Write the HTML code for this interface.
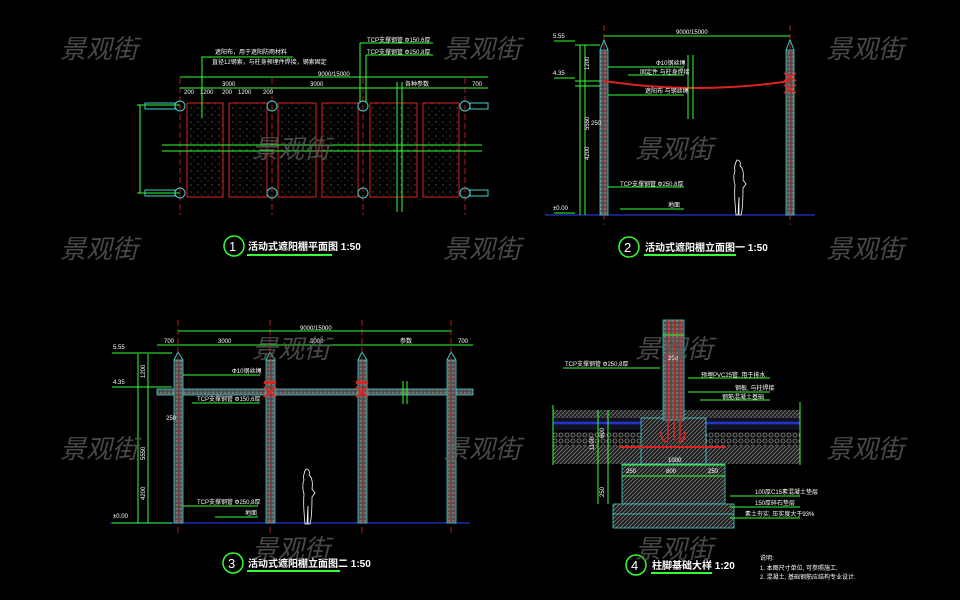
<!DOCTYPE html>
<html><head><meta charset="utf-8"><style>
html,body{margin:0;padding:0;background:#000;}
svg{display:block}
.wm{font-family:"Liberation Sans","Noto Sans CJK SC",sans-serif;font-size:26px;font-style:italic;fill:#5a5a5a;fill-opacity:0.8}
.t{font-family:"Liberation Sans","Noto Sans CJK SC",sans-serif;fill:#fff}
.s{font-family:"Liberation Sans","Noto Sans CJK SC",sans-serif;font-size:6px;fill:#fff}
</style></head><body>
<svg width="960" height="600" viewBox="0 0 960 600" xmlns="http://www.w3.org/2000/svg">
<defs>
<pattern id="dots" width="7" height="7" patternUnits="userSpaceOnUse"><rect width="7" height="7" fill="#000"/><circle cx="2" cy="3" r="0.5" fill="#bbb"/><circle cx="5" cy="6" r="0.4" fill="#999"/></pattern>
<pattern id="post" width="4" height="4" patternUnits="userSpaceOnUse"><rect width="4" height="4" fill="#555"/><circle cx="1" cy="1" r="0.7" fill="#999"/><circle cx="3" cy="3" r="0.6" fill="#333"/></pattern>
<pattern id="hatch" width="4" height="4" patternUnits="userSpaceOnUse"><rect width="4" height="4" fill="#222"/><path d="M0 4L4 0" stroke="#999" stroke-width="0.6"/></pattern>
<pattern id="grav" width="6" height="6" patternUnits="userSpaceOnUse"><rect width="6" height="6" fill="#111"/><circle cx="3" cy="3" r="2" fill="none" stroke="#aaa" stroke-width="0.6"/></pattern>
</defs>

<!-- ===== Q1 plan ===== -->
<g>
<g fill="url(#dots)" stroke="#d22" stroke-width="1">
<rect x="187" y="103" width="36" height="94"/><rect x="229" y="103" width="38" height="94"/>
<rect x="278" y="103" width="38" height="94"/><rect x="322" y="103" width="36" height="94"/>
<rect x="370" y="103" width="47" height="94"/><rect x="423" y="103" width="36" height="94"/>
</g>
<g stroke="#d22" stroke-width="0.8" stroke-dasharray="6,3">
<line x1="180" y1="78" x2="180" y2="215"/><line x1="272" y1="78" x2="272" y2="215"/><line x1="363" y1="78" x2="363" y2="215"/><line x1="465" y1="78" x2="465" y2="215"/>
</g>
<g stroke="#3f3" stroke-width="1" fill="none">
<line x1="162" y1="145" x2="482" y2="145"/><line x1="162" y1="151" x2="482" y2="151"/>
<line x1="180" y1="77" x2="488" y2="77"/><line x1="180" y1="88" x2="488" y2="88"/>
<line x1="397" y1="82" x2="397" y2="212"/><line x1="402" y1="82" x2="402" y2="212"/>
<line x1="140" y1="105" x2="140" y2="193"/><line x1="137" y1="105" x2="180" y2="105"/><line x1="137" y1="193" x2="180" y2="193"/>
<polyline points="202,118 202,57 293,57"/><line x1="360" y1="43" x2="433" y2="43"/><line x1="360" y1="43" x2="360" y2="103"/>
<line x1="366" y1="55" x2="433" y2="55"/><line x1="366" y1="55" x2="366" y2="103"/>
</g>
<g stroke="#4cc" stroke-width="1" fill="none">
<circle cx="180" cy="106" r="5"/><circle cx="272" cy="106" r="5"/><circle cx="363" cy="106" r="5"/><circle cx="465" cy="106" r="5"/>
<circle cx="180" cy="193" r="5"/><circle cx="272" cy="193" r="5"/><circle cx="363" cy="193" r="5"/><circle cx="465" cy="193" r="5"/>
<rect x="145" y="103" width="30" height="6"/><rect x="145" y="190" width="30" height="6"/>
<rect x="470" y="103" width="18" height="6"/><rect x="470" y="190" width="18" height="6"/>
</g>
<g class="s">
<text x="318" y="76">9000/15000</text><text x="222" y="86">3000</text><text x="310" y="86">3000</text><text x="405" y="86">各种参数</text><text x="472" y="86">700</text>
<text x="184" y="94">200</text><text x="200" y="94">1200</text><text x="222" y="94">200</text><text x="238" y="94">1200</text><text x="263" y="94">200</text>
<text x="215" y="54">遮阳布，用于遮阳防雨材料</text><text x="212" y="64">直径12钢索，与柱身预埋件焊接，钢索固定</text>
<text x="367" y="42">TCP支撑钢管 Φ150,6厚</text><text x="367" y="54">TCP支撑钢管 Φ250,8厚</text>
</g>
<circle cx="234" cy="246" r="10" fill="none" stroke="#3f3" stroke-width="1.5"/>
<text class="t" x="229" y="251" font-size="13">1</text>
<text class="t" x="248" y="250" font-size="10" font-weight="bold">活动式遮阳棚平面图 1:50</text>
<line x1="247" y1="255" x2="332" y2="255" stroke="#3f3" stroke-width="2"/>
</g>

<!-- ===== Q2 elevation ===== -->
<g>
<line x1="545" y1="215" x2="815" y2="215" stroke="#23c" stroke-width="1.2"/>
<rect x="600" y="50" width="8" height="165" fill="url(#post)" stroke="#4cc" stroke-width="0.8"/>
<rect x="786" y="50" width="8" height="165" fill="url(#post)" stroke="#4cc" stroke-width="0.8"/>
<path d="M600 50L604 40L608 50M786 50L790 40L794 50" stroke="#4cc" fill="none"/>
<g stroke="#d22" stroke-width="0.8" stroke-dasharray="6,3"><line x1="604" y1="25" x2="604" y2="225"/><line x1="790" y1="25" x2="790" y2="225"/></g>
<path d="M604 81 Q697 95 790 81" stroke="#d22" stroke-width="2" fill="none"/>
<path d="M784 73l12 8M784 81l12-8M784 85l12 8M784 93l12-8" stroke="#e22" stroke-width="1.5"/>
<g stroke="#3f3" stroke-width="1" fill="none">
<line x1="604" y1="36" x2="790" y2="36"/>
<line x1="580" y1="45" x2="580" y2="215"/><line x1="585" y1="45" x2="585" y2="215"/>
<line x1="575" y1="45" x2="600" y2="45"/><line x1="575" y1="81" x2="600" y2="81"/><line x1="575" y1="86" x2="600" y2="86"/>
<line x1="554" y1="41" x2="575" y2="41"/><line x1="554" y1="78" x2="575" y2="78"/><line x1="554" y1="213" x2="575" y2="213"/>
<line x1="608" y1="67" x2="684" y2="67"/><line x1="628" y1="75" x2="684" y2="75"/><line x1="608" y1="95" x2="684" y2="95"/>
<line x1="688" y1="55" x2="688" y2="119"/><line x1="693" y1="55" x2="693" y2="119"/>
<line x1="608" y1="187" x2="684" y2="187"/><line x1="620" y1="209" x2="684" y2="209"/>
</g>
<g class="s">
<text x="676" y="34">9000/15000</text><text x="553" y="38">5.55</text><text x="553" y="75">4.35</text><text x="553" y="210">±0.00</text>
<text x="589" y="130" transform="rotate(-90 589 130)">5550</text><text x="589" y="160" transform="rotate(-90 589 160)">4200</text><text x="589" y="70" transform="rotate(-90 589 70)">1200</text>
<text x="591" y="125">250</text>
<text x="656" y="65">Φ10钢丝绳</text><text x="640" y="74">固定件 与柱身焊接</text><text x="645" y="93">遮阳布 与钢丝绳</text>
<text x="620" y="186">TCP支撑钢管 Φ250,8厚</text><text x="668" y="207">地面</text>
</g>
<path d="M737 160c3 0 4 3 3 6c3 2 4 8 3 14l3 4l-3 4c0 8 0 20-2 27h-2l0-18l-1 18h-2c-1-10-2-20-1-30c-2-6-1-12 0-14c-1-3 0-8 2-11z" stroke="#fff" fill="none" stroke-width="0.8"/>
<circle cx="629" cy="247" r="10" fill="none" stroke="#3f3" stroke-width="1.5"/>
<text class="t" x="624" y="252" font-size="13">2</text>
<text class="t" x="645" y="251" font-size="10" font-weight="bold">活动式遮阳棚立面图一 1:50</text>
<line x1="644" y1="255" x2="736" y2="255" stroke="#3f3" stroke-width="2"/>
</g>

<!-- ===== Q3 elevation ===== -->
<g>
<line x1="110" y1="523" x2="470" y2="523" stroke="#23c" stroke-width="1.2"/>
<rect x="157" y="389" width="316" height="6" fill="url(#post)" stroke="#4cc" stroke-width="0.8"/>
<g fill="url(#post)" stroke="#4cc" stroke-width="0.8">
<rect x="174" y="360" width="9" height="163"/><rect x="266" y="360" width="9" height="163"/><rect x="358" y="360" width="9" height="163"/><rect x="447" y="360" width="9" height="163"/>
</g>
<path d="M174 360l4-8l5 8M266 360l4-8l5 8M358 360l4-8l5 8M447 360l4-8l5 8" stroke="#4cc" fill="none"/>
<g stroke="#d22" stroke-width="0.8" stroke-dasharray="6,3"><line x1="178" y1="320" x2="178" y2="535"/><line x1="270" y1="320" x2="270" y2="535"/><line x1="362" y1="320" x2="362" y2="535"/><line x1="451" y1="320" x2="451" y2="535"/></g>
<path d="M264 387l12 10M264 397l12-10M356 387l12 10M356 397l12-10" stroke="#e22" stroke-width="2"/>
<rect x="264" y="381" width="12" height="3" fill="#d22"/><rect x="356" y="381" width="12" height="3" fill="#d22"/>
<g stroke="#3f3" stroke-width="1" fill="none">
<line x1="178" y1="331" x2="451" y2="331"/><line x1="157" y1="345" x2="473" y2="345"/>
<line x1="138" y1="354" x2="138" y2="523"/><line x1="148" y1="354" x2="148" y2="523"/>
<line x1="112" y1="353" x2="172" y2="353"/><line x1="112" y1="387" x2="172" y2="387"/><line x1="112" y1="523" x2="172" y2="523"/>
<line x1="183" y1="375" x2="260" y2="375"/><line x1="192" y1="403" x2="260" y2="403"/>
<line x1="403" y1="381" x2="403" y2="404"/><line x1="407" y1="381" x2="407" y2="404"/>
<line x1="183" y1="506" x2="258" y2="506"/><line x1="215" y1="517" x2="258" y2="517"/>
</g>
<g class="s">
<text x="300" y="330">9000/15000</text><text x="164" y="343">700</text><text x="218" y="343">3000</text><text x="310" y="343">3000</text><text x="400" y="343">参数</text><text x="458" y="343">700</text>
<text x="113" y="349">5.55</text><text x="113" y="384">4.35</text><text x="113" y="518">±0.00</text>
<text x="145" y="460" transform="rotate(-90 145 460)">5550</text><text x="145" y="500" transform="rotate(-90 145 500)">4200</text><text x="145" y="378" transform="rotate(-90 145 378)">1200</text>
<text x="166" y="420">250</text>
<text x="232" y="373">Φ10钢丝绳</text><text x="197" y="401">TCP支撑钢管 Φ150,6厚</text>
<text x="197" y="504">TCP支撑钢管 Φ250,8厚</text><text x="245" y="515">地面</text>
</g>
<path d="M306 469c3 0 4 3 3 6c3 2 4 8 3 14l3 4l-3 4c0 8 0 20-2 27h-2l0-18l-1 18h-2c-1-10-2-20-1-30c-2-6-1-12 0-14c-1-3 0-8 2-11z" stroke="#fff" fill="none" stroke-width="0.8"/>
<circle cx="233" cy="563" r="10" fill="none" stroke="#3f3" stroke-width="1.5"/>
<text class="t" x="228" y="568" font-size="13">3</text>
<text class="t" x="248" y="567" font-size="10" font-weight="bold">活动式遮阳棚立面图二 1:50</text>
<line x1="247" y1="571" x2="340" y2="571" stroke="#3f3" stroke-width="2"/>
</g>

<!-- ===== Q4 detail ===== -->
<g>
<rect x="553" y="410" width="247" height="8" fill="url(#hatch)"/>
<rect x="553" y="418" width="247" height="12" fill="#112" />
<line x1="553" y1="423" x2="800" y2="423" stroke="#23c" stroke-width="2.5"/>
<rect x="553" y="432" width="247" height="14" fill="url(#grav)"/>
<rect x="553" y="446" width="247" height="18" fill="url(#hatch)"/>
<rect x="641" y="418" width="65" height="46" fill="url(#hatch)" stroke="#4cc" stroke-width="0.8"/>
<rect x="622" y="464" width="103" height="40" fill="url(#hatch)" stroke="#4cc" stroke-width="0.8"/>
<rect x="613" y="504" width="121" height="24" fill="url(#hatch)" stroke="#4cc" stroke-width="0.8"/>
<line x1="613" y1="514" x2="734" y2="514" stroke="#4cc" stroke-width="0.8"/>
<rect x="663" y="320" width="21" height="100" fill="url(#post)" stroke="#4cc" stroke-width="0.8"/>
<g stroke="#d22" stroke-width="1.5"><line x1="668" y1="320" x2="668" y2="440"/><line x1="674" y1="320" x2="674" y2="440"/><line x1="680" y1="320" x2="680" y2="440"/>
<line x1="619" y1="447" x2="726" y2="447" stroke-width="2"/>
<path d="M661 432q0 10 7 10M685 432q0 10-7 10" fill="none"/></g>
<g stroke="#3f3" stroke-width="1" fill="none">
<line x1="553" y1="405" x2="553" y2="465"/><line x1="800" y1="402" x2="800" y2="465"/>
<line x1="608" y1="410" x2="608" y2="504"/><line x1="598" y1="410" x2="598" y2="504"/>
<line x1="622" y1="465" x2="725" y2="465"/><line x1="622" y1="476" x2="725" y2="476"/>
<line x1="563" y1="368" x2="660" y2="368"/><line x1="688" y1="378" x2="770" y2="378"/>
<line x1="688" y1="392" x2="770" y2="392"/><line x1="700" y1="400" x2="770" y2="400"/>
<line x1="730" y1="496" x2="800" y2="496"/><line x1="730" y1="507" x2="800" y2="507"/><line x1="730" y1="518" x2="800" y2="518"/>
<line x1="663" y1="335" x2="684" y2="335"/>
</g>
<g class="s">
<text x="565" y="366">TCP支撑钢管 Φ250,8厚</text><text x="701" y="377">预埋PVC25管, 用于排水</text><text x="735" y="390">钢板, 与柱焊接</text><text x="722" y="399">钢筋混凝土基础</text>
<text x="668" y="360">250</text><text x="668" y="462">1000</text><text x="626" y="473">250</text><text x="666" y="473">800</text><text x="708" y="473">250</text>
<text x="594" y="450" transform="rotate(-90 594 450)">1100</text><text x="604" y="438" transform="rotate(-90 604 438)">600</text><text x="604" y="497" transform="rotate(-90 604 497)">250</text>
<text x="755" y="494">100厚C15素混凝土垫层</text><text x="755" y="505">150厚碎石垫层</text><text x="745" y="516">素土夯实, 压实度大于93%</text>
<text x="760" y="560">说明:</text><text x="760" y="570">1. 本图尺寸单位, 可参照施工;</text><text x="760" y="579">2. 混凝土, 基础钢筋应结构专业设计.</text>
</g>
<circle cx="636" cy="565" r="10" fill="none" stroke="#3f3" stroke-width="1.5"/>
<text class="t" x="631" y="570" font-size="13">4</text>
<text class="t" x="652" y="569" font-size="10" font-weight="bold">柱脚基础大样 1:20</text>
<line x1="651" y1="573" x2="712" y2="573" stroke="#3f3" stroke-width="2"/>
</g>

<!-- watermarks on top -->
<g class="wm">
<text x="60" y="58">景观街</text><text x="443" y="58">景观街</text><text x="826" y="58">景观街</text>
<text x="252" y="158">景观街</text><text x="635" y="158">景观街</text>
<text x="60" y="258">景观街</text><text x="443" y="258">景观街</text><text x="826" y="258">景观街</text>
<text x="252" y="358">景观街</text><text x="635" y="358">景观街</text>
<text x="60" y="458">景观街</text><text x="443" y="458">景观街</text><text x="826" y="458">景观街</text>
<text x="252" y="558">景观街</text><text x="635" y="558">景观街</text>
</g>
</svg>
</body></html>
